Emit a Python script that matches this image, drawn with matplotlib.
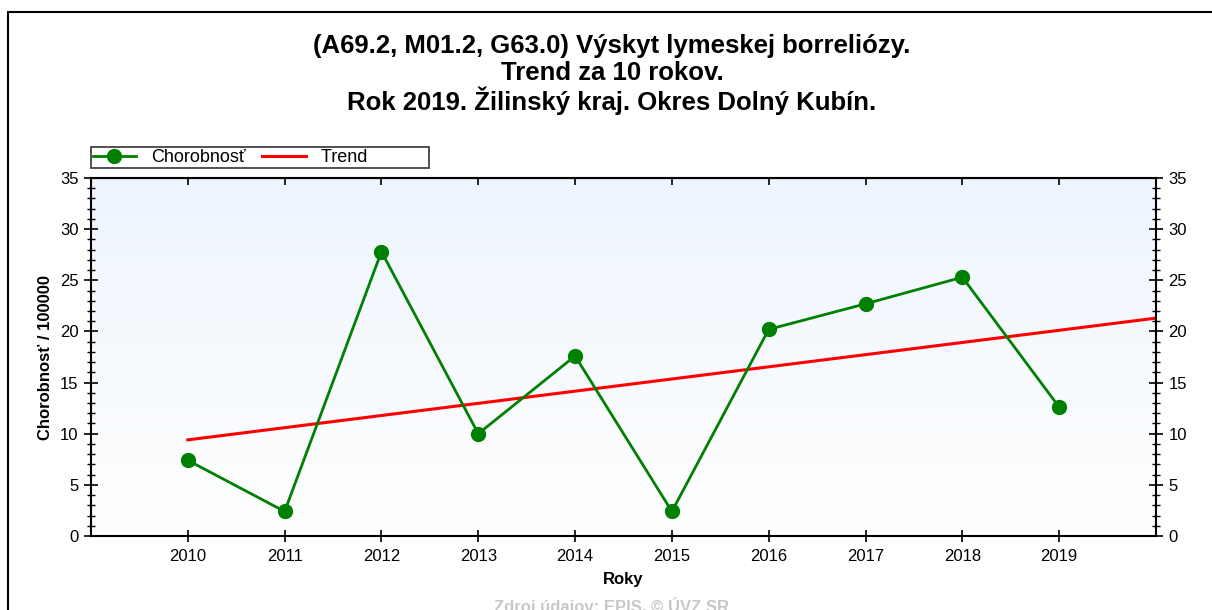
import matplotlib
matplotlib.use("Agg")
import matplotlib.pyplot as plt
import numpy as np
from matplotlib.ticker import MultipleLocator

plt.rcParams['font.family'] = ['Liberation Sans', 'DejaVu Sans']

# data
years = [2010, 2011, 2012, 2013, 2014, 2015, 2016, 2017, 2018, 2019]
chorobnost = [7.4, 2.4, 27.8, 10.0, 17.6, 2.4, 20.2, 22.7, 25.3, 12.6]
trend_x = [2010, 2020]
trend_y = [9.4, 21.3]

title_lines = ["(A69.2, M01.2, G63.0) Výskyt lymeskej borreliózy.",
               "Trend za 10 rokov.",
               "Rok 2019. Žilinský kraj. Okres Dolný Kubín."]

fig = plt.figure(figsize=(12.12, 6.10), dpi=100)

# outer frame of the picture
fig.add_artist(plt.Rectangle((8/1212, -0.1), 1.2, 1 - 12/610 + 0.1,
                             transform=fig.transFigure, fill=False,
                             edgecolor='black', linewidth=1.5))

# title, one line at a time so the spacing stays even
for i, line in enumerate(title_lines):
    fig.text(612/1212, 1 - (44 + 27 * i)/610, line, ha='center', va='center_baseline',
             fontsize=18.5, fontweight='bold')

ax = fig.add_axes([91/1212, 1 - 536/610, 1065/1212, 358/610])

# light blue gradient background
grad = np.linspace(0, 1, 256).reshape(-1, 1)
cmap = matplotlib.colors.LinearSegmentedColormap.from_list('bg', ['#ffffff', '#eef5fe'])
ax.imshow(grad, aspect='auto', cmap=cmap, origin='lower',
          extent=[0, 1, 0, 1], transform=ax.transAxes, zorder=0)

ax.plot(trend_x, trend_y, color='#ff0000', linewidth=2.2, label='Trend', zorder=2)
ax.plot(years, chorobnost, color='#008000', linewidth=2, marker='o',
        markersize=10, label='Chorobnosť', zorder=3)

ax.set_xlim(2009, 2020)
ax.set_ylim(0, 35)
ax.set_xticks(years)
ax.yaxis.set_major_locator(MultipleLocator(5))
ax.yaxis.set_minor_locator(MultipleLocator(1))

ax.tick_params(axis='y', which='major', direction='inout', length=10, width=1.2,
               left=True, right=True, labelleft=True, labelright=True,
               labelsize=12, pad=4)
ax.tick_params(axis='y', which='minor', direction='inout', length=5.5, width=1.0,
               left=True, right=True)
ax.tick_params(axis='x', which='major', direction='inout', length=8, width=1.2,
               labelsize=12, pad=5.5)
for sp in ax.spines.values():
    sp.set_linewidth(1.5)

# top axis: short inward ticks, no labels
top = ax.secondary_xaxis('top')
top.set_xticks(years)
top.tick_params(direction='in', length=5, width=1.2, labeltop=False)

ax.set_xlabel('Roky', fontsize=12, fontweight='bold')
ax.xaxis.set_label_coords(0.5, -(572 - 536) / 358)
ax.set_ylabel('Chorobnosť / 100000', fontsize=12, fontweight='bold')
ax.yaxis.set_label_coords(-(91 - 53) / 1065, 0.5)

h, l = ax.get_legend_handles_labels()
labels = ['Chorobnosť', 'Trend            ']
leg = fig.legend(h[::-1], labels, loc='lower left',
                 bbox_to_anchor=(91/1212, 1 - 168/610), ncol=2, fontsize=13,
                 frameon=True, fancybox=False, edgecolor='black',
                 borderpad=0.1, handlelength=2.4, columnspacing=0.9,
                 handletextpad=0.85, borderaxespad=0)
leg.get_frame().set_linewidth(1.2)

fig.text(612/1212, 1 - 597/610, 'Zdroj údajov: EPIS, © ÚVZ SR', ha='center',
         va='top', fontsize=12, color='#c8c8c8', fontweight='bold')

fig.savefig('out.png', dpi=100)
